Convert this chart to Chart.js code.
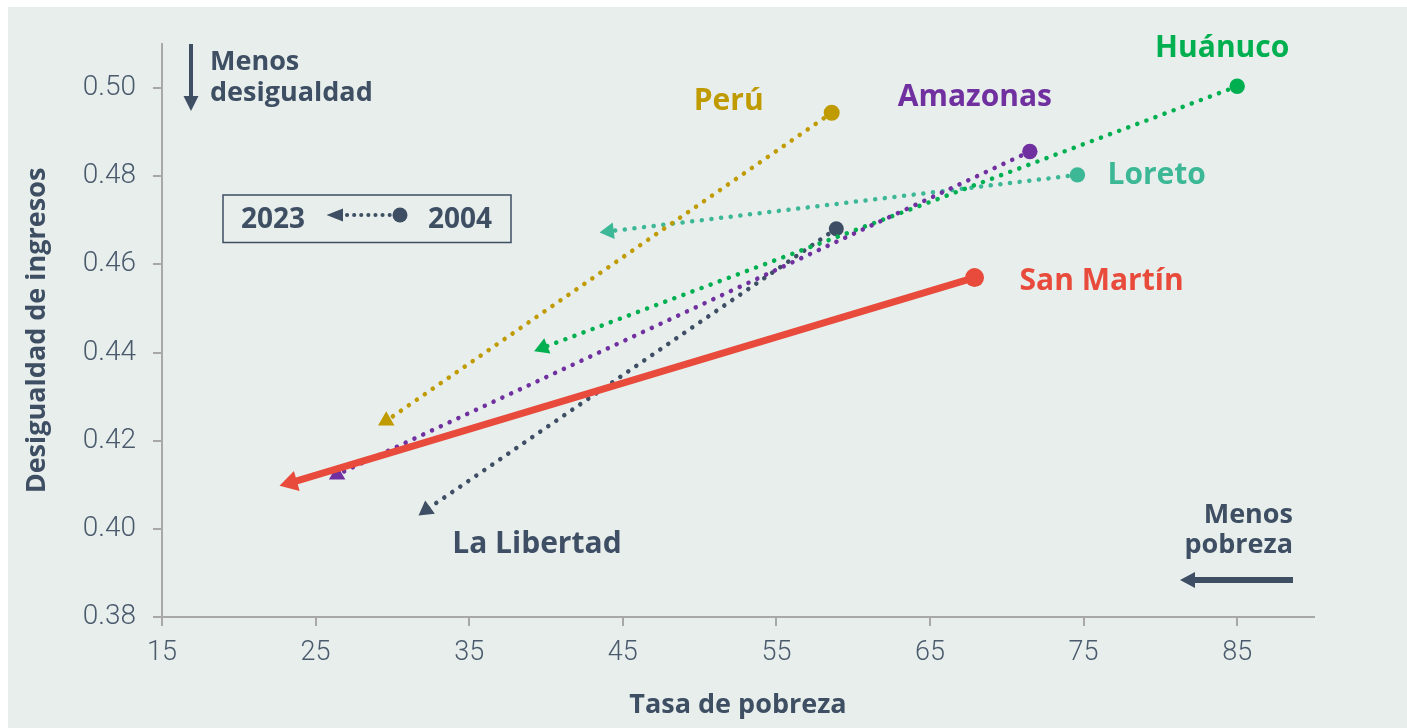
<!DOCTYPE html>
<html lang="es">
<head>
<meta charset="utf-8">
<title>Pobreza y desigualdad</title>
<script src="https://cdn.jsdelivr.net/npm/chart.js@4.4.1/dist/chart.umd.min.js"></script>
<style>
  html, body { margin: 0; padding: 0; background: #fff; }
  #marco { position: absolute; left: 0; top: 0; width: 1407px; height: 728px; }
</style>
</head>
<body>
<div id="marco"><canvas id="grafico" width="1407" height="728"></canvas></div>
<script>
// datos (2004 -> 2023)
const regiones = ['San Martín', 'Perú', 'Amazonas', 'Huánuco', 'Loreto', 'La Libertad'];
const pobreza2004 = [67.9, 58.6, 71.5, 85.0, 74.6, 58.9];
const pobreza2023 = [23.4, 29.6, 26.4, 39.8, 44.1, 32.2];
const desigualdad2004 = [0.457, 0.4944, 0.4856, 0.5004, 0.4803, 0.4681];
const desigualdad2023 = [0.4105, 0.4245, 0.4123, 0.4411, 0.4675, 0.4043];
const ticksX = [15, 25, 35, 45, 55, 65, 75, 85];
const ticksY = [0.38, 0.40, 0.42, 0.44, 0.46, 0.48, 0.50];

// estilos
const colores = ['#e84b3c', '#c09b00', '#7030a0', '#00b050', '#3db896', '#3e4f65'];
const radioCirculo = [9.5, 8, 7.7, 7.7, 7.7, 7.5];
const radioFlecha = [12, 9.5, 9.5, 9.5, 9.5, 9.5];
const giroFlecha = [-106, 0, 0, 8, -97, -6];
const etiquetas = [
    { punto: 2004, dx: 45, dy: 12, align: 'left' },
    { punto: 2004, dx: -103, dy: -3, align: 'center' },
    { punto: 2004, dx: -55, dy: -46, align: 'center' },
    { punto: 2004, dx: -15, dy: -29, align: 'center' },
    { punto: 2004, dx: 30, dy: 9, align: 'left' },
    { punto: 2023, dx: 26, dy: 43, align: 'left' }
];
const PIZARRA = '#3e4e63';
const GRIS = '#a8a8a8';
const TXT_TICK = '#4a5a6d';
const NEGRITA = '"Open Sans", "Noto Sans", sans-serif';

const fondo = {
    id: 'fondo',
    beforeDraw(chart) {
        const { ctx, width, height } = chart;
        ctx.save();
        ctx.fillStyle = '#ffffff';
        ctx.fillRect(0, 0, width, height);
        ctx.fillStyle = '#e8eeec';
        ctx.fillRect(8, 7, width - 8, height - 7);
        ctx.restore();
    }
};

function flecha(ctx, x1, y1, x2, y2, grosor, largo, ancho) {
    // linea de x1,y1 a x2,y2 con punta en x2,y2
    const ang = Math.atan2(y2 - y1, x2 - x1);
    const bx = x2 - Math.cos(ang) * largo, by = y2 - Math.sin(ang) * largo;
    ctx.lineWidth = grosor;
    ctx.lineCap = 'butt';
    ctx.beginPath();
    ctx.moveTo(x1, y1);
    ctx.lineTo(bx, by);
    ctx.stroke();
    ctx.beginPath();
    ctx.moveTo(x2, y2);
    ctx.lineTo(bx + Math.sin(ang) * ancho, by - Math.cos(ang) * ancho);
    ctx.lineTo(bx - Math.sin(ang) * ancho, by + Math.cos(ang) * ancho);
    ctx.closePath();
    ctx.fill();
}

const anotaciones = {
    id: 'anotaciones',
    afterDatasetsDraw(chart) {
        const { ctx, chartArea: a, scales: { x, y } } = chart;
        ctx.save();

        // nombres de las regiones
        ctx.font = 'bold 30px ' + NEGRITA;
        ctx.textBaseline = 'alphabetic';
        regiones.forEach((r, i) => {
            const e = etiquetas[i];
            const px = x.getPixelForValue(e.punto === 2004 ? pobreza2004[i] : pobreza2023[i]);
            const py = y.getPixelForValue(e.punto === 2004 ? desigualdad2004[i] : desigualdad2023[i]);
            ctx.fillStyle = colores[i];
            ctx.textAlign = e.align;
            ctx.fillText(r, px + e.dx, py + e.dy);
        });

        ctx.fillStyle = PIZARRA;
        ctx.strokeStyle = PIZARRA;

        // Menos desigualdad
        flecha(ctx, a.left + 29, a.top, a.left + 29, a.top + 67, 4, 15, 7.5);
        ctx.font = 'bold 27px ' + NEGRITA;
        ctx.textAlign = 'left';
        ctx.fillText('Menos', a.left + 48, a.top + 26);
        ctx.fillText('desigualdad', a.left + 48, a.top + 57);

        // Menos pobreza
        ctx.textAlign = 'right';
        ctx.fillText('Menos', a.right - 21, a.bottom - 94);
        ctx.fillText('pobreza', a.right - 21, a.bottom - 64);
        flecha(ctx, a.right - 21, a.bottom - 37, a.right - 134, a.bottom - 37, 6, 15, 8);

        // recuadro de leyenda
        const bx = a.left + 61, by = a.top + 151;
        ctx.lineWidth = 1.5;
        ctx.strokeRect(bx, by, 288, 47.5);
        ctx.font = 'bold 28px ' + NEGRITA;
        ctx.textAlign = 'left';
        ctx.fillText('2023', bx + 18, by + 33);
        ctx.fillText('2004', bx + 205, by + 33);
        const cy = by + 20;
        ctx.beginPath();
        ctx.moveTo(bx + 103.5, cy);
        ctx.lineTo(bx + 120, cy - 6.5);
        ctx.lineTo(bx + 120, cy + 6.5);
        ctx.closePath();
        ctx.fill();
        ctx.lineWidth = 4;
        ctx.lineCap = 'round';
        ctx.setLineDash([0.1, 7]);
        ctx.beginPath();
        ctx.moveTo(bx + 124, cy);
        ctx.lineTo(bx + 170, cy);
        ctx.stroke();
        ctx.setLineDash([]);
        ctx.beginPath();
        ctx.arc(bx + 177, cy, 7.5, 0, Math.PI * 2);
        ctx.fill();

        ctx.restore();
    }
};

function crearGrafico() {
    const datasets = regiones.map((r, i) => ({
        label: r,
        data: [
            { x: pobreza2004[i], y: desigualdad2004[i] },
            { x: pobreza2023[i], y: desigualdad2023[i] }
        ],
        borderColor: colores[i],
        backgroundColor: colores[i],
        borderWidth: i === 0 ? 7 : 4.5,
        borderDash: i === 0 ? [] : [0.1, 9.6],
        borderCapStyle: 'round',
        pointStyle: ['circle', 'triangle'],
        pointRadius: [radioCirculo[i], radioFlecha[i]],
        pointRotation: [0, giroFlecha[i]],
        pointBorderWidth: 0,
        pointBackgroundColor: colores[i],
        tension: 0
    }));

    new Chart(document.getElementById('grafico'), {
        type: 'line',
        data: { datasets },
        options: {
            responsive: false,
            animation: false,
            events: [],
            layout: { padding: { left: 0, top: 44, right: 93, bottom: 0 } },
            plugins: { legend: { display: false }, tooltip: { enabled: false } },
            scales: {
                x: {
                    type: 'linear', min: 15, max: 90,
                    afterBuildTicks: s => { s.ticks = ticksX.map(v => ({ value: v })); },
                    afterFit: s => { s.height = 111; },
                    grid: { drawOnChartArea: false, tickLength: 9, color: GRIS, lineWidth: 2 },
                    border: { color: GRIS, width: 2 },
                    ticks: { font: { family: 'Roboto', size: 27, weight: '300' }, color: TXT_TICK, padding: 11, maxRotation: 0, autoSkip: false },
                    title: { display: true, text: 'Tasa de pobreza', color: PIZARRA, font: { family: NEGRITA, size: 27, weight: 'bold' }, padding: { top: 0, bottom: 6 } }
                },
                y: {
                    type: 'linear', min: 0.38, max: 0.51,
                    afterBuildTicks: s => { s.ticks = ticksY.map(v => ({ value: v })); },
                    afterFit: s => { s.width = 162; },
                    grid: { drawOnChartArea: false, tickLength: 9, color: GRIS, lineWidth: 2 },
                    border: { color: GRIS, width: 2 },
                    ticks: { font: { family: 'Roboto', size: 28, weight: '300' }, color: TXT_TICK, padding: 17, callback: v => v.toFixed(2) },
                    title: { display: true, text: 'Desigualdad de ingresos', color: PIZARRA, font: { family: NEGRITA, size: 27, weight: 'bold' }, padding: { top: 21, bottom: 0 } }
                }
            }
        },
        plugins: [fondo, anotaciones]
    });
}

Promise.all([
    document.fonts.load('bold 30px "Open Sans"'),
    document.fonts.load('300 28px Roboto')
]).then(crearGrafico, crearGrafico);
</script>
</body>
</html>
